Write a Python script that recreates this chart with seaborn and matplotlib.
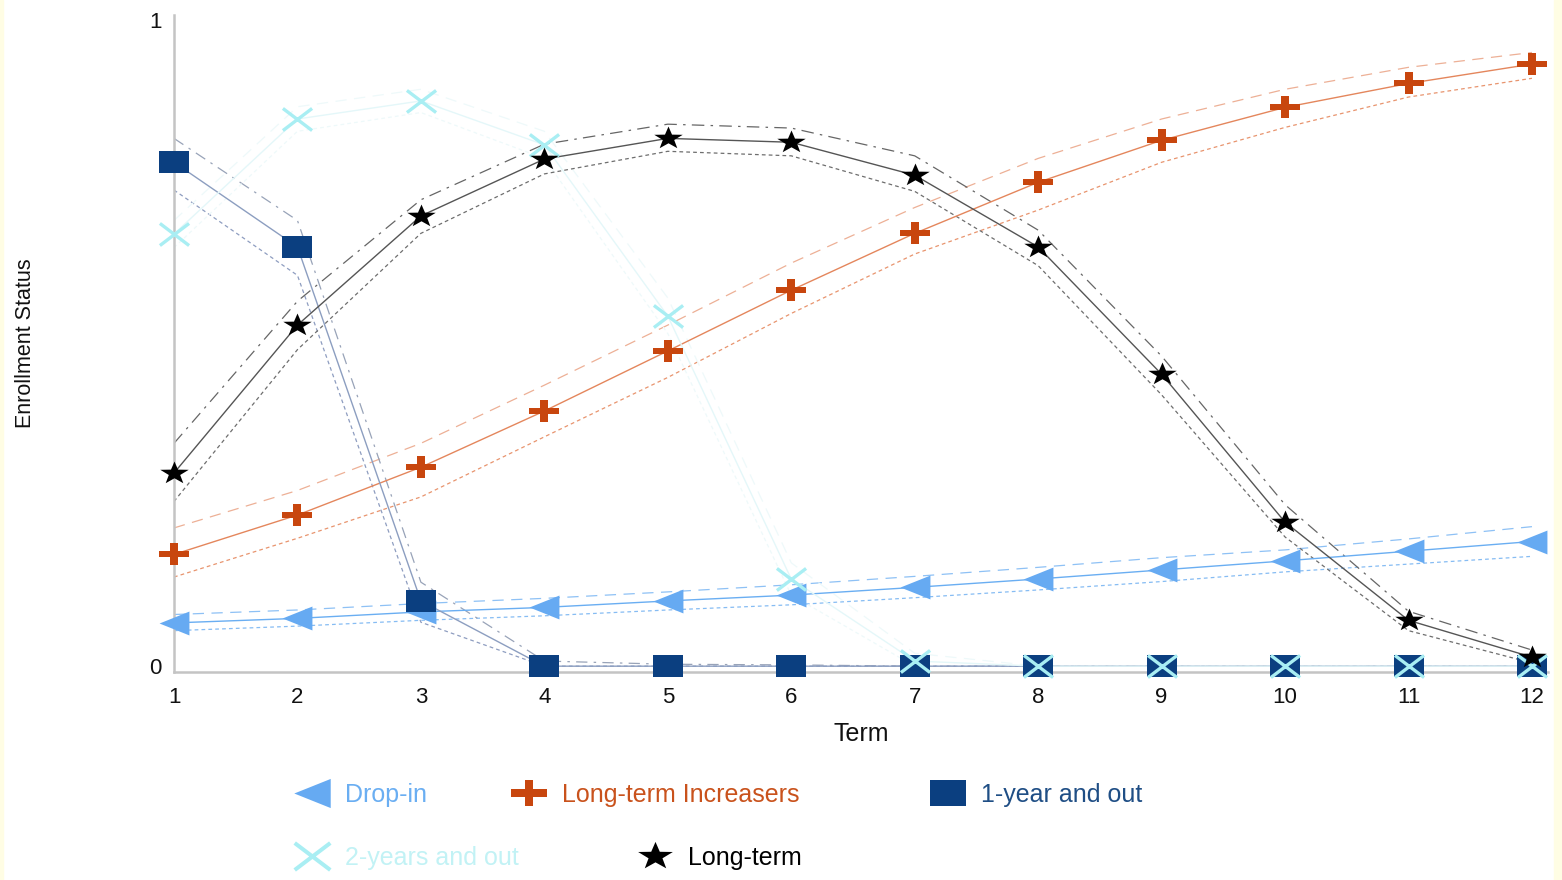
import numpy as np
import matplotlib
matplotlib.use("Agg")
import matplotlib.pyplot as plt
from matplotlib.path import Path
from matplotlib.lines import Line2D
from matplotlib.patches import Rectangle
import seaborn as sns

# ---------------- data ----------------
terms = [1, 2, 3, 4, 5, 6, 7, 8, 9, 10, 11, 12]

drop_in    = [0.067, 0.074, 0.084, 0.091, 0.101, 0.110, 0.122, 0.135, 0.149, 0.163, 0.178, 0.193]
drop_in_hi = [0.080, 0.087, 0.097, 0.105, 0.115, 0.126, 0.139, 0.153, 0.168, 0.180, 0.197, 0.216]
drop_in_lo = [0.055, 0.062, 0.071, 0.078, 0.087, 0.095, 0.106, 0.118, 0.131, 0.146, 0.158, 0.170]

increasers    = [0.173, 0.234, 0.308, 0.395, 0.488, 0.582, 0.670, 0.749, 0.814, 0.865, 0.902, 0.932]
increasers_hi = [0.214, 0.272, 0.345, 0.435, 0.528, 0.624, 0.710, 0.786, 0.847, 0.893, 0.927, 0.950]
increasers_lo = [0.138, 0.198, 0.262, 0.355, 0.447, 0.546, 0.638, 0.706, 0.780, 0.834, 0.881, 0.910]

one_year    = [0.780, 0.649, 0.101, 0.0, 0.0, 0.0, 0.0, 0.0, 0.0, 0.0, 0.0, 0.0]
one_year_hi = [0.817, 0.690, 0.130, 0.008, 0.003, 0.002, 0.0, 0.0, 0.0, 0.0, 0.0, 0.0]
one_year_lo = [0.737, 0.605, 0.068, 0.0, 0.0, 0.0, 0.0, 0.0, 0.0, 0.0, 0.0, 0.0]

two_years    = [0.669, 0.847, 0.875, 0.807, 0.542, 0.135, 0.008, 0.0, 0.0, 0.0, 0.0, 0.0]
two_years_hi = [0.690, 0.866, 0.893, 0.828, 0.570, 0.160, 0.020, 0.0, 0.0, 0.0, 0.0, 0.0]
two_years_lo = [0.648, 0.828, 0.857, 0.786, 0.515, 0.110, 0.0, 0.0, 0.0, 0.0, 0.0, 0.0]

long_term    = [0.299, 0.528, 0.697, 0.785, 0.817, 0.811, 0.760, 0.649, 0.452, 0.223, 0.071, 0.014]
long_term_hi = [0.345, 0.565, 0.722, 0.808, 0.839, 0.833, 0.790, 0.675, 0.480, 0.250, 0.085, 0.025]
long_term_lo = [0.255, 0.490, 0.670, 0.762, 0.797, 0.790, 0.735, 0.620, 0.420, 0.200, 0.055, 0.005]

labels = ["Drop-in", "Long-term Increasers", "1-year and out", "2-years and out", "Long-term"]

# ---------------- markers (horizontally stretched) ----------------
def poly(verts):
    verts = list(verts) + [verts[0]]
    codes = [Path.MOVETO] + [Path.LINETO] * (len(verts) - 2) + [Path.CLOSEPOLY]
    return Path(verts, codes)

m_square = poly([(-1.38, -1), (1.38, -1), (1.38, 1), (-1.38, 1)])
m_tri = poly([(-1.25, 0), (1.25, 1), (1.25, -1)])
a, b, SX = 0.34, 0.30, 1.40
m_plus = poly([(-a, 1), (a, 1), (a, b), (SX, b), (SX, -b), (a, -b), (a, -1),
               (-a, -1), (-a, -b), (-SX, -b), (-SX, b), (-a, b)])
m_x = Path([(-1.32, -1), (1.32, 1), (-1.32, 1), (1.32, -1)],
           [Path.MOVETO, Path.LINETO, Path.MOVETO, Path.LINETO])
sv = []
for k in range(10):
    r = 1.0 if k % 2 == 0 else 0.40
    ang = np.pi / 2 + k * np.pi / 5
    sv.append((1.25 * r * np.cos(ang), r * np.sin(ang)))
m_star = poly(sv)

# ---------------- style ----------------
sns.set_theme(style="white")
plt.rcParams["font.family"] = ["Liberation Sans", "DejaVu Sans"]

W, H = 1562, 880
fig = plt.figure(figsize=(W / 100, H / 100), dpi=100)
fig.patch.set_facecolor("white")
ax = fig.add_axes([174 / W, 1 - 672 / H, (1548 - 174) / W, (672 - 15) / H])
ax.set_facecolor("white")

series = [
    # values, hi, lo, marker, ms, face, edge, mew, line, band_hi, band_lo, text color, hi dash
    (drop_in, drop_in_hi, drop_in_lo, m_tri, 21.5, "#66AAF2", "#66AAF2", 0, "#6AAEF2", "#8EC1F5", "#86BCF3", "#6AAEF2", (0, (9, 6))),
    (increasers, increasers_hi, increasers_lo, m_plus, 21.5, "#C8460E", "#C8460E", 0, "#E4865C", "#EDB096", "#E8946E", "#C9521C", (0, (9, 6))),
    (one_year, one_year_hi, one_year_lo, m_square, 21, "#0B3F80", "#0B3F80", 0, "#8C9EC0", "#98A3B8", "#8E9DC0", "#1F4E85", (0, (9, 5, 2, 5))),
    (two_years, two_years_hi, two_years_lo, m_x, 21, "none", "#A9EEF3", 2.4, "#E4F7F9", "#EEF9FA", "#EEF9FA", "#C2F2F5", (0, (9, 6))),
    (long_term, long_term_hi, long_term_lo, m_star, 20.5, "#000000", "#000000", 0, "#555555", "#666666", "#6E6E6E", "#000000", (0, (10, 5, 2, 5))),
]

# bands and connecting lines
for vals, hi, lo, mk, ms, fc, ec, mew, lc, hc, loc_, tc, hd in series:
    sns.lineplot(x=terms, y=hi, ax=ax, color=hc, lw=0.9, linestyle=hd, legend=False, errorbar=None, zorder=2)
    sns.lineplot(x=terms, y=lo, ax=ax, color=loc_, lw=0.9, linestyle=(0, (3, 2.5)), legend=False, errorbar=None, zorder=2)
    sns.lineplot(x=terms, y=vals, ax=ax, color=lc, lw=1.0, legend=False, errorbar=None, zorder=3)

# markers
for i, (vals, hi, lo, mk, ms, fc, ec, mew, lc, hc, loc_, tc, hd) in enumerate(series):
    sns.lineplot(x=terms, y=vals, ax=ax, linestyle="", marker=mk, markersize=ms,
                 markerfacecolor=fc, markeredgecolor=ec, markeredgewidth=mew,
                 legend=False, errorbar=None, clip_on=False, zorder=5 + i)

ax.set_xlim(1, 12.13)
ax.set_ylim(-0.009, 1.008)
ax.set_xticks(terms)
ax.set_xticklabels([str(t) for t in terms])
ax.set_yticks([0, 1])
ax.set_yticklabels(["0", "1"])
for s in ["top", "right"]:
    ax.spines[s].set_visible(False)
for s in ["left", "bottom"]:
    ax.spines[s].set_color("#C4C4C4")
    ax.spines[s].set_linewidth(1.8)
ax.tick_params(axis="both", length=4, width=1, color="#AAAAAA", labelsize=16,
               labelcolor="#111111", pad=5, direction="out")
ax.tick_params(axis="x", pad=7)
ax.set_xlabel("Term", fontsize=18, color="#111111", labelpad=10)
ax.set_ylabel("")
fig.text(26 / W, 1 - 343 / H, "Enrollment Status", rotation=90, ha="center", va="center",
         fontsize=15.5, color="#111111")

# legend (flow layout as in reference)
leg_pos = [(312, 795), (529, 795), (948, 795), (312, 858), (655, 858)]
for (vals, hi, lo, mk, ms, fc, ec, mew, lc, hc, loc_, tc, hd), lab, (px, py) in zip(series, labels, leg_pos):
    h = Line2D([], [], linestyle="", marker=mk, markersize=ms * 1.22, markerfacecolor=fc,
               markeredgecolor=ec, markeredgewidth=mew * 1.2)
    fs = 18
    em = fs * 100 / 72
    hl = 33 / em
    fig.legend(handles=[h], labels=[lab], loc="center left",
               bbox_to_anchor=((px - 16.5) / W, 1 - py / H), frameon=False,
               fontsize=fs, handlelength=hl, handletextpad=0.65, borderpad=0,
               borderaxespad=0, labelcolor=tc)

# pale yellow frame edges
fig.patches.append(Rectangle((0, 0), 3 / W, 1, transform=fig.transFigure, color="#FFFDE4", zorder=0))
fig.patches.append(Rectangle((1554 / W, 0), 8 / W, 1, transform=fig.transFigure, color="#FFFDE4", zorder=0))

fig.savefig("out.png", dpi=100, facecolor="white")
